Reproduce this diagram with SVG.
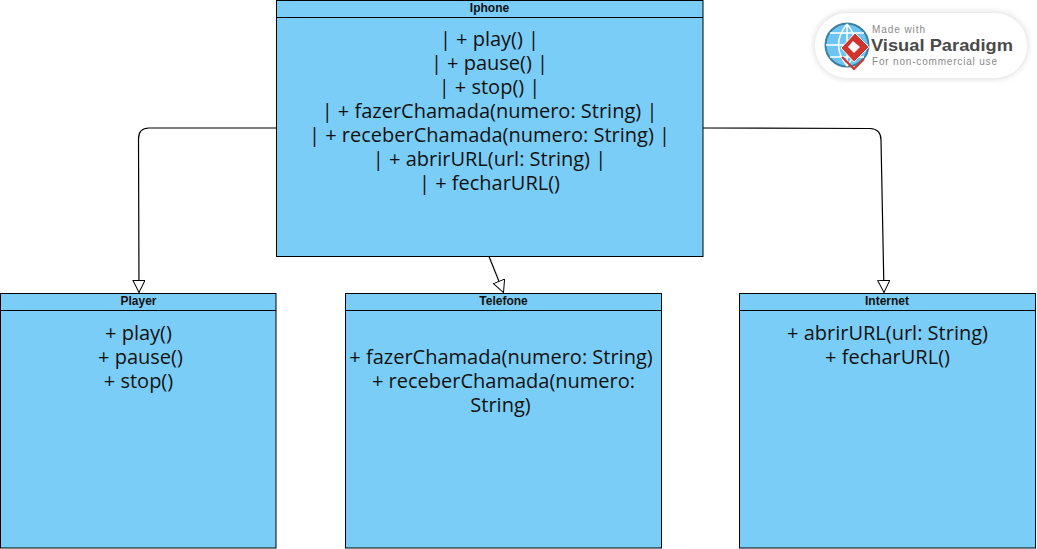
<svg xmlns="http://www.w3.org/2000/svg" width="1037" height="549" viewBox="0 0 1037 549">
<style>
.box{fill:#7acdf6;stroke:#000;stroke-width:1}
.sep{stroke:#000;stroke-width:1;fill:none}
.title{font:bold 12px "Liberation Sans",Arial,sans-serif;fill:#111;text-anchor:middle}
.body{font:20px "Open Sans",sans-serif;fill:#111;text-anchor:middle}
.conn{fill:none;stroke:#000;stroke-width:1.200;marker-end:url(#tri)}
</style>
<defs>
<marker id="tri" markerUnits="userSpaceOnUse" markerWidth="14" markerHeight="14" refX="12.500" refY="6.500" orient="auto">
<path d="M0.500 0.500L12.500 6.500L0.500 12.500Z" fill="#fff" stroke="#000" stroke-width="1"/>
</marker>
<filter id="soft" x="-10%" y="-20%" width="120%" height="140%"><feGaussianBlur stdDeviation="3"/></filter>
</defs>
<g id="connectors">
<path class="conn" d="M276 128H149Q138.500 128 138.500 139L139 292.500"/>
<path class="conn" d="M489 256.500L503.500 292.500"/>
<path class="conn" d="M703 128L870 128.500Q881 129 881 140L884 292.500"/>
</g>
<g id="iphone">
<rect class="box" x="276.500" y="0.500" width="426.500" height="256"/>
<path class="sep" d="M276.500 17.500H703"/>
<text class="title" x="489.500" y="11.500">Iphone</text>
<text class="body"><tspan x="489.500" y="46">| + play() |</tspan><tspan x="489.500" y="70">| + pause() |</tspan><tspan x="489.500" y="94">| + stop() |</tspan><tspan x="489.500" y="118">| + fazerChamada(numero: String) |</tspan><tspan x="489.500" y="142">| + receberChamada(numero: String) |</tspan><tspan x="489.500" y="166">| + abrirURL(url: String) |</tspan><tspan x="489.500" y="190">| + fecharURL()</tspan></text>
</g>
<g id="player">
<rect class="box" x="0.500" y="293.500" width="275.500" height="254.500"/>
<path class="sep" d="M0.500 310.500H276"/>
<text class="title" x="138.500" y="304.500">Player</text>
<text class="body"><tspan x="138.500" y="340">+ play()</tspan><tspan x="140.500" y="364">+ pause()</tspan><tspan x="138.500" y="388">+ stop()</tspan></text>
</g>
<g id="telefone">
<rect class="box" x="345.500" y="293.500" width="316" height="254.500"/>
<path class="sep" d="M345.500 310.500H661.500"/>
<text class="title" x="503.500" y="304.500">Telefone</text>
<text class="body"><tspan x="501" y="364">+ fazerChamada(numero: String)</tspan><tspan x="503.500" y="388">+ receberChamada(numero:</tspan><tspan x="500.500" y="412">String)</tspan></text>
</g>
<g id="internet">
<rect class="box" x="739.500" y="293.500" width="296" height="254.500"/>
<path class="sep" d="M739.500 310.500H1035.500"/>
<text class="title" x="887" y="304.500">Internet</text>
<text class="body"><tspan x="887.500" y="340">+ abrirURL(url: String)</tspan><tspan x="887.500" y="364">+ fecharURL()</tspan></text>
</g>
<g id="watermark">
<rect x="814" y="12" width="214" height="67" rx="33" fill="#ddd" filter="url(#soft)"/>
<rect x="815" y="13" width="212" height="65" rx="32" fill="#fff"/>
<circle cx="847" cy="45" r="21.500" fill="#6cc4f2" stroke="#3d7f9c" stroke-width="2"/>
<path d="M826 45H868M847 24V66M847 24Q830 45 847 66M847 24Q864 45 847 66M830 33H864M830 57H864" fill="none" stroke="#fff" stroke-width="1.500"/>
<path d="M855 33L869 47L854 62L841 48Z" fill="#d0342c" stroke="#fff" stroke-width="1"/>
<path d="M853 41L860 47L854 53L848 47Z" fill="#fff"/>
<path d="M842 57L854 69L864 59" fill="none" stroke="#d0342c" stroke-width="2"/>
<text font-family="'Liberation Sans',sans-serif" font-size="10" fill="#8a8a8a"><tspan x="872" y="33" textLength="53">Made with</tspan><tspan x="871" y="51" font-size="16.500" font-weight="700" fill="#4a4a4a" textLength="142" lengthAdjust="spacingAndGlyphs">Visual Paradigm</tspan><tspan x="872" y="65" textLength="125">For non-commercial use</tspan></text>
</g>
</svg>
